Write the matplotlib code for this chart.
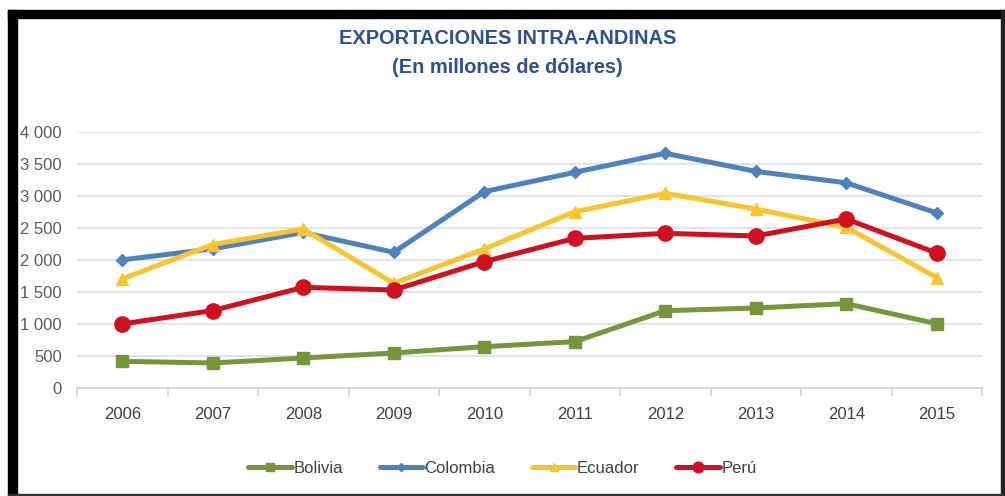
import matplotlib
matplotlib.use('Agg')
from matplotlib import pyplot as plt
from matplotlib.patches import Rectangle
import numpy as np

years = ['2006', '2007', '2008', '2009', '2010', '2011', '2012', '2013', '2014', '2015']
bolivia = [417, 391, 469, 547, 646, 724, 1208, 1250, 1318, 1004]
colombia = [2002, 2174, 2430, 2120, 3068, 3370, 3667, 3385, 3206, 2735]
ecuador = [1705, 2242, 2485, 1635, 2172, 2755, 3042, 2797, 2510, 1726]
peru = [1001, 1210, 1573, 1531, 1974, 2338, 2417, 2375, 2641, 2108]
y_ticks = [0, 500, 1000, 1500, 2000, 2500, 3000, 3500, 4000]

plt.rcParams['font.family'] = ['Liberation Sans', 'DejaVu Sans']

fig = plt.figure(figsize=(10.05, 4.96), dpi=100)
ax = fig.add_axes([77 / 1005, 1 - 388 / 496, 905 / 1005, 256 / 496])

x = np.arange(len(years))
series = [
    ('Bolivia', bolivia, '#77963B', 's', 8),
    ('Colombia', colombia, '#4F81BD', 'D', 6),
    ('Ecuador', ecuador, '#F8C532', '^', 8),
    ('Perú', peru, '#D0101E', 'o', 11),
]
for name, vals, color, marker, ms in series:
    ax.plot(x, vals, color=color, lw=3.6, marker=marker, ms=ms, label=name,
            solid_capstyle='round')

ax.set_xlim(-0.5, len(years) - 0.5)
ax.set_ylim(0, 4000)
ax.set_yticks(y_ticks)
ax.set_yticklabels([f'{v:,}'.replace(',', ' ') for v in y_ticks])
ax.set_xticks(x)
ax.set_xticklabels(years)
ax.set_xticks(np.arange(-0.5, len(years)), minor=True)
ax.tick_params(axis='x', which='major', length=0, pad=14, labelsize=12, colors='#404040')
ax.tick_params(axis='x', which='minor', length=6, color='#D0D7E0', width=1.2)
ax.tick_params(axis='y', length=0, pad=11, labelsize=12, labelcolor='#5A5A5A')
ax.grid(axis='y', color='#DCE3EB', lw=1.3)
ax.set_axisbelow(True)
for side in ['top', 'right', 'left']:
    ax.spines[side].set_visible(False)
ax.spines['bottom'].set_color('#D0D7E0')
ax.spines['bottom'].set_linewidth(1.3)

fig.text(0.505, 0.922, 'EXPORTACIONES INTRA-ANDINAS', ha='center', va='center',
         fontsize=14.4, fontweight='bold', color='#2F4F8F')
fig.text(0.505, 0.864, '(En millones de dólares)', ha='center', va='center',
         fontsize=14.4, fontweight='bold', color='#2F4F8F')

leg = fig.legend(loc='center', bbox_to_anchor=(0.5, 0.055), ncol=4, frameon=False,
                 fontsize=12, handlelength=2.6, columnspacing=2.2, handletextpad=0.1,
                 markerscale=0.7)
for t in leg.get_texts():
    t.set_color('#404040')

# black frame around the picture
fig.patches.append(Rectangle((8 / 1005, 0), 9 / 1005, 1 - 10 / 496, transform=fig.transFigure,
                             color='black', zorder=10))
fig.patches.append(Rectangle((8 / 1005, 1 - 18 / 496), 996 / 1005, 8 / 496, transform=fig.transFigure,
                             color='black', zorder=10))
fig.patches.append(Rectangle((1001 / 1005, 0), 3 / 1005, 1 - 10 / 496, transform=fig.transFigure,
                             color='#222222', zorder=10))
fig.patches.append(Rectangle((8 / 1005, 0), 996 / 1005, 2 / 496, transform=fig.transFigure,
                             color='#333333', zorder=10))

fig.savefig('out.png', dpi=100)
